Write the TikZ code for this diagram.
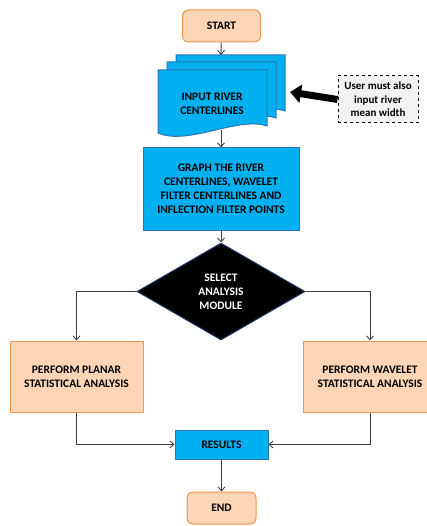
\documentclass[tikz,border=0pt]{standalone}
\usepackage{fontspec}
\setmainfont{Carlito}
\usetikzlibrary{shapes.geometric,arrows.meta}
\definecolor{peach}{HTML}{FBD5B5}
\definecolor{orng}{HTML}{F79646}
\definecolor{cyanb}{HTML}{00B0F0}
\definecolor{blueln}{HTML}{2E75B6}
\definecolor{navy}{HTML}{1F3864}
\definecolor{grayln}{HTML}{404040}
\definecolor{notebg}{HTML}{F2F2F2}
\begin{document}
\begin{tikzpicture}[x=1pt,y=-1pt,font=\bfseries\fontsize{11.5}{14}\selectfont,>={Straight Barb[length=4pt,width=7pt]},
  term/.style={draw=orng,fill=peach,line width=1pt,rounded corners=6pt,minimum width=78pt,minimum height=32pt},
  proc/.style={draw=orng,fill=peach,line width=1pt,align=center,minimum width=133pt,minimum height=71pt},
  bluebox/.style={draw=blueln,fill=cyanb,line width=1pt,align=center},
  page/.style={draw=blueln,fill=cyanb,line width=1pt},
  link/.style={->,draw=grayln,line width=0.9pt},
  fat/.style={-{Triangle[length=11pt,width=18pt]},line width=7pt,black}]
\useasboundingbox(0,0)rectangle(427,526);
\node[term](start)at(221.5,26){START};%開始
\foreach \dx/\dy in {18/-15,9/-8,0/0}
  \filldraw[page,shift={(\dx,\dy)}](158,70)--(267,70)--(267,126) .. controls (238,116) and (188,146) .. (158,133)--cycle;%書類
\node[align=center](input)at(212,104){INPUT RIVER\\CENTERLINES};
\coordinate(intop)at(221,55);
\coordinate(inbot)at(221,130);
\node[draw,dashed,line width=1pt,fill=notebg,align=center,minimum width=80pt,minimum height=47pt,inner sep=2pt,font=\bfseries\fontsize{11}{13.5}\selectfont](note)at(378,99.5){User must also\\input river\\mean width};
\coordinate(notetip)at(290,92);
\node[bluebox,minimum width=156pt,minimum height=82pt](graph)at(221,189){GRAPH THE RIVER\\CENTERLINES, WAVELET\\FILTER CENTERLINES AND\\INFLECTION FILTER POINTS};
\node[diamond,aspect=1.7,inner sep=1pt,draw=navy,fill=black,text=white,line width=1pt,align=center,minimum width=168pt,minimum height=97pt](select)at(221,291.5){SELECT\\ANALYSIS\\MODULE};%分岐
\node[proc](planar)at(76.5,376.5){PERFORM PLANAR\\STATISTICAL ANALYSIS};
\node[proc](wavelet)at(370,376.5){PERFORM WAVELET\\STATISTICAL ANALYSIS};
\node[bluebox,minimum width=93pt,minimum height=29pt](results)at(221.5,444.5){RESULTS};
\node[term,minimum width=69pt](end)at(221.5,508){END};%終了
\draw[link](start)--(intop);
\draw[link](inbot)--(graph);
\draw[fat](note.west)--(notetip);
\draw[link](graph)--(select);
\draw[link](select.west)-|(planar);
\draw[link](select.east)-|(wavelet);
\draw[link](planar)|-(results);
\draw[link](wavelet)|-(results);
\draw[link](results)--(end);
\end{tikzpicture}
\end{document}
